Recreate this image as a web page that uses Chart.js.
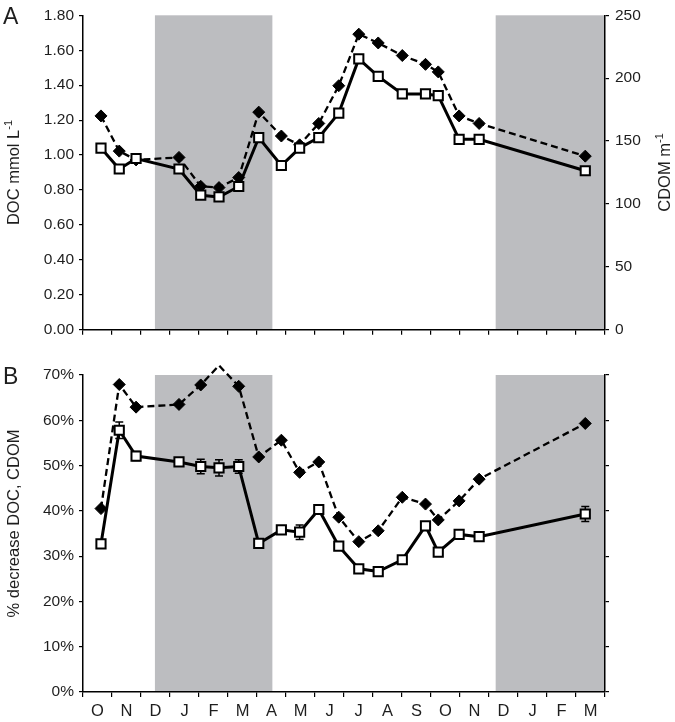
<!DOCTYPE html>
<html>
<head>
<meta charset="utf-8">
<script src="https://cdn.jsdelivr.net/npm/chart.js@4.4.0/dist/chart.umd.min.js"></script>
<style>
  body { margin: 0; background: #fff; }
  #wrap { position: relative; width: 675px; height: 722px; }
  canvas { position: absolute; left: 0; }
</style>
</head>
<body>
<div id="wrap">
  <canvas id="chartA" width="675" height="345" style="top:0"></canvas>
  <canvas id="chartB" width="675" height="377" style="top:345px"></canvas>
</div>
<script>
// sampling dates as months since 1 Oct (0 = start of first O)
const sampleMonth = [0.62, 1.25, 1.83, 3.31, 4.06, 4.69, 5.37, 6.06, 6.84, 7.47, 8.13, 8.82, 9.51, 10.18, 11.01, 11.81, 12.25, 12.97, 13.66, 17.32];
const monthLabels = ['O', 'N', 'D', 'J', 'F', 'M', 'A', 'M', 'J', 'J', 'A', 'S', 'O', 'N', 'D', 'J', 'F', 'M'];

// panel A
const docValues = [1.04, 0.92, 0.98, 0.92, 0.77, 0.76, 0.82, 1.10, 0.94, 1.04, 1.10, 1.24, 1.55, 1.45, 1.35, 1.35, 1.34, 1.09, 1.09, 0.91];
const cdomValues = [170, 142, 135, 137, 114, 113, 121, 173, 154, 147, 164, 194, 235, 228, 218, 211, 205, 170, 164, 138];

// panel B
const docDecrease = [32.7, 57.8, 52.1, 50.8, 49.8, 49.5, 49.8, 32.8, 35.8, 35.3, 40.3, 32.2, 27.2, 26.6, 29.2, 36.7, 30.9, 34.8, 34.3, 39.3];
const docDecreaseErr = [0, 1.8, 1.0, 0.5, 1.6, 1.8, 1.5, 0, 0, 1.6, 0, 0, 0.6, 0, 0, 0, 0, 0, 0, 1.65];
const cdomDecrease = [40.5, 67.9, 62.9, 63.5, 67.8, 72.1, 67.5, 51.9, 55.6, 48.5, 50.8, 38.6, 33.2, 35.6, 43.0, 41.5, 38.0, 42.2, 47.0, 59.3];

// winter (ice-covered) periods, in the same month units
const shadeStart = [2.48, 14.23];
const shadeEnd = [6.53, 18];

const FONT = "'Liberation Sans', Arial, sans-serif";
Chart.defaults.font.family = FONT;
Chart.defaults.font.size = 15.5;
Chart.defaults.color = '#1e1e1e';

const shadePlugin = {
  id: 'shade',
  beforeDraw(chart) {
    const { ctx, chartArea, scales } = chart;
    ctx.save();
    ctx.fillStyle = '#bcbdc0';
    shadeStart.forEach((s, i) => {
      const x1 = scales.x.getPixelForValue(s);
      const x2 = scales.x.getPixelForValue(shadeEnd[i]);
      ctx.fillRect(x1, chartArea.top, x2 - x1, chartArea.bottom - chartArea.top);
    });
    ctx.restore();
  }
};

const errorBarPlugin = {
  id: 'errorBars',
  beforeDatasetsDraw(chart, args, opts) {
    if (!opts.values) return;
    const { ctx, scales } = chart;
    ctx.save();
    ctx.strokeStyle = '#000';
    ctx.lineWidth = 1.5;
    opts.values.forEach((v, i) => {
      const e = opts.errors[i];
      if (!e) return;
      const x = scales.x.getPixelForValue(sampleMonth[i]);
      const yTop = scales.y.getPixelForValue(v + e);
      const yBot = scales.y.getPixelForValue(v - e);
      ctx.beginPath();
      ctx.moveTo(x, yTop); ctx.lineTo(x, yBot);
      ctx.moveTo(x - 4, yTop); ctx.lineTo(x + 4, yTop);
      ctx.moveTo(x - 4, yBot); ctx.lineTo(x + 4, yBot);
      ctx.stroke();
    });
    ctx.restore();
  }
};

function drawRotated(ctx, x, cy, main, sup) {
  ctx.save();
  ctx.translate(x, cy);
  ctx.rotate(-Math.PI / 2);
  ctx.fillStyle = '#1e1e1e';
  ctx.textBaseline = 'middle';
  ctx.font = '16.5px ' + FONT;
  const wMain = ctx.measureText(main).width;
  ctx.font = '11px ' + FONT;
  const wSup = sup ? ctx.measureText(sup).width : 0;
  const start = -(wMain + wSup) / 2;
  ctx.font = '16.5px ' + FONT;
  ctx.fillText(main, start, 0);
  if (sup) {
    ctx.font = '11px ' + FONT;
    ctx.fillText(sup, start + wMain, -5);
  }
  ctx.restore();
}

const panelTextPlugin = {
  id: 'panelText',
  afterDraw(chart, args, opts) {
    const { ctx, chartArea } = chart;
    const cy = (chartArea.top + chartArea.bottom) / 2;
    ctx.save();
    ctx.fillStyle = '#1e1e1e';
    ctx.font = '23px ' + FONT;
    ctx.textBaseline = 'alphabetic';
    ctx.fillText(opts.letter, 3, opts.letterY);
    ctx.restore();
    if (opts.left) drawRotated(ctx, 14, cy + (opts.leftShift || 0), opts.left, opts.leftSup);
    if (opts.right) drawRotated(ctx, 665, cy, opts.right, opts.rightSup);
  }
};

function xAxis(showLabels, height) {
  return {
    type: 'linear', min: 0, max: 18,
    afterBuildTicks: s => { s.ticks = monthLabels.map((m, i) => ({ value: i + 0.5 })); },
    grid: { offset: true, drawOnChartArea: false, tickLength: 5, color: '#000', lineWidth: 1.2 },
    border: { color: '#000', width: 1.5 },
    ticks: {
      display: showLabels, autoSkip: false, maxRotation: 0, minRotation: 0, padding: 5,
      font: { size: 16.5 },
      callback: (v, i) => monthLabels[i]
    },
    afterFit: s => { s.height = height; }
  };
}

const commonOpts = {
  responsive: false,
  animation: false,
  events: [],
  plugins: { legend: { display: false }, tooltip: { enabled: false } }
};

const squareStyle = {
  borderColor: '#000', borderWidth: 3, tension: 0,
  pointStyle: 'rect', pointRadius: 6.5, pointBackgroundColor: '#fff',
  pointBorderColor: '#000', pointBorderWidth: 2, clip: false
};
const diamondStyle = {
  borderColor: '#000', borderWidth: 2.3, borderDash: [7, 4], tension: 0,
  pointStyle: 'rectRot', pointRadius: 6, pointBackgroundColor: '#000',
  pointBorderColor: '#000', pointBorderWidth: 1, clip: false
};

new Chart(document.getElementById('chartA'), {
  type: 'line',
  data: {
    datasets: [
      Object.assign({ label: 'DOC', yAxisID: 'y', data: sampleMonth.map((m, i) => ({ x: m, y: docValues[i] })) }, squareStyle),
      Object.assign({ label: 'CDOM', yAxisID: 'y2', data: sampleMonth.map((m, i) => ({ x: m, y: cdomValues[i] })) }, diamondStyle)
    ]
  },
  options: Object.assign({}, commonOpts, {
    layout: { padding: { top: 13, left: 0, right: 0, bottom: 0 } },
    scales: {
      x: xAxis(false, 14),
      y: {
        position: 'left', min: 0, max: 1.8,
        ticks: { stepSize: 0.2, padding: 5, callback: v => v.toFixed(2) },
        grid: { drawOnChartArea: false, tickLength: 4, color: '#000', lineWidth: 1.2 },
        border: { color: '#000', width: 1.5 },
        afterFit: s => { s.width = 83; }
      },
      y2: {
        position: 'right', min: 0, max: 250,
        ticks: { stepSize: 50, padding: 6 },
        grid: { drawOnChartArea: false, tickLength: 4, color: '#000', lineWidth: 1.2 },
        border: { color: '#000', width: 1.5 },
        afterFit: s => { s.width = 70; }
      }
    },
    plugins: Object.assign({}, commonOpts.plugins, {
      panelText: { letter: 'A', letterY: 24, left: 'DOC mmol L', leftSup: '-1', right: 'CDOM m', rightSup: '-1' }
    })
  }),
  plugins: [shadePlugin, panelTextPlugin]
});

new Chart(document.getElementById('chartB'), {
  type: 'line',
  data: {
    datasets: [
      Object.assign({ label: 'DOC', yAxisID: 'y', data: sampleMonth.map((m, i) => ({ x: m, y: docDecrease[i] })) }, squareStyle),
      Object.assign({ label: 'CDOM', yAxisID: 'y', data: sampleMonth.map((m, i) => ({ x: m, y: cdomDecrease[i] })) }, diamondStyle)
    ]
  },
  options: Object.assign({}, commonOpts, {
    layout: { padding: { top: 30, left: 0, right: 0, bottom: 0 } },
    scales: {
      x: xAxis(true, 30),
      y: {
        position: 'left', min: 0, max: 70,
        ticks: { stepSize: 10, padding: 5, callback: v => v + '%' },
        grid: { drawOnChartArea: false, tickLength: 4, color: '#000', lineWidth: 1.2 },
        border: { color: '#000', width: 1.5 },
        afterFit: s => { s.width = 83; }
      },
      y2: {
        position: 'right', min: 0, max: 70,
        ticks: { display: false, stepSize: 10 },
        grid: { drawOnChartArea: false, tickLength: 4, color: '#000', lineWidth: 1.2 },
        border: { color: '#000', width: 1.5 },
        afterFit: s => { s.width = 70; }
      }
    },
    plugins: Object.assign({}, commonOpts.plugins, {
      errorBars: { values: docDecrease, errors: docDecreaseErr },
      panelText: { letter: 'B', letterY: 39, left: '% decrease DOC, CDOM', leftShift: -10 }
    })
  }),
  plugins: [shadePlugin, errorBarPlugin, panelTextPlugin]
});
</script>
</body>
</html>
